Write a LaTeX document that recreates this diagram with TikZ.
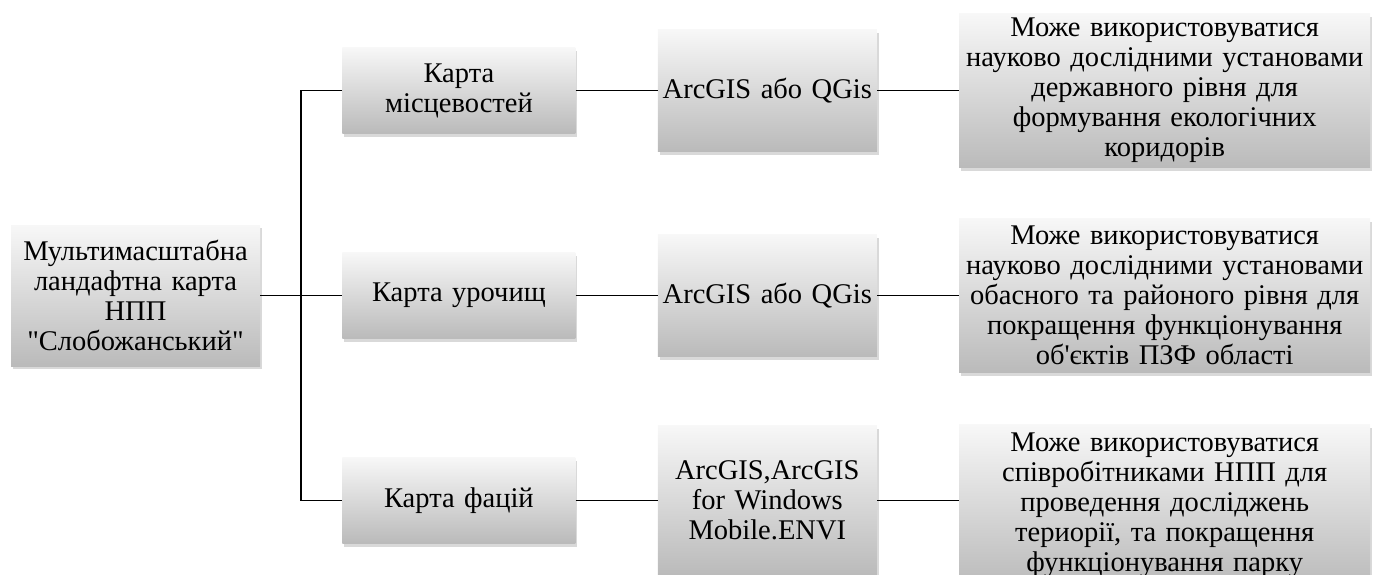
\documentclass[tikz,border=0pt]{standalone}
\usepackage{fontspec}
\setmainfont{Liberation Serif}[Ligatures=ResetAll]
\newfontfamily\tnr{Liberation Serif}[Ligatures=ResetAll]
\usetikzlibrary{
  positioning,
  shadows
}

\tikzset{
  box/.style={align=center, inner sep=0pt,
    top color=black!3, bottom color=black!27,
    drop shadow={shadow xshift=2pt, shadow yshift=-3pt, opacity=0.3},
    font=\tnr\fontsize{28.5}{30}\selectfont},
  rootbox/.style={box, text width=249pt, minimum height=141pt},
  mapbox/.style={box, text width=233pt, minimum height=86pt},
  gisbox/.style={box, text width=219pt, minimum height=122pt},
  usebox/.style={box, text width=411pt, minimum height=154pt},
  link/.style={line width=1.6pt}
}

\begin{document}
\begin{tikzpicture}[node distance = 82pt]
    \useasboundingbox (0,0) rectangle (1376pt,-574pt);
    \node[rootbox] (root) at (135.5pt,-295.5pt) {Мультимасштабна\\ ландафтна карта\\ НПП\\ "Слобожанський"};
    \node[mapbox,right = of root,yshift=205pt] (k1) {Карта\\ місцевостей};
    \node[mapbox,right = of root] (k2) {Карта урочищ};
    \node[mapbox,right = of root,yshift=-205pt] (k3) {Карта фацій};
    \node[gisbox,right = of k1] (g1) {ArcGIS або QGis};
    \node[gisbox,right = of k2] (g2) {ArcGIS або QGis};
    \node[gisbox,right = of k3,minimum height=150pt] (g3) {ArcGIS,ArcGIS\\ for Windows\\ Mobile.ENVI};
    \node[usebox,right = of g1] (u1) {Може використовуватися\\ науково дослідними установами\\ державного рівня для\\ формування екологічних\\ коридорів};
    \node[usebox,right = of g2] (u2) {Може використовуватися\\ науково дослідними установами\\ обасного та районого рівня для\\ покращення функціонування\\ об'єктів ПЗФ області};
    \node[usebox,right = of g3,minimum height=162pt,yshift=-5pt] (u3) {Може використовуватися\\ співробітниками НПП для\\ проведення досліджень\\ териорії, та покращення\\ функціонування парку};
    \coordinate[right = 41pt of root] (fork);

    \draw[link] (root) -- (fork);
    \draw[link] (k1.west) -| (fork) |- (k3.west);
    \draw[link] (fork) -- (k2);
    \draw[link] (k1) -- (g1);
    \draw[link] (k2) -- (g2);
    \draw[link] (k3) -- (g3);
    \draw[link] (g1) -- (u1);
    \draw[link] (g2) -- (u2);
    \draw[link] (g3) -- (g3 -| u3.west);
\end{tikzpicture}
\end{document}
